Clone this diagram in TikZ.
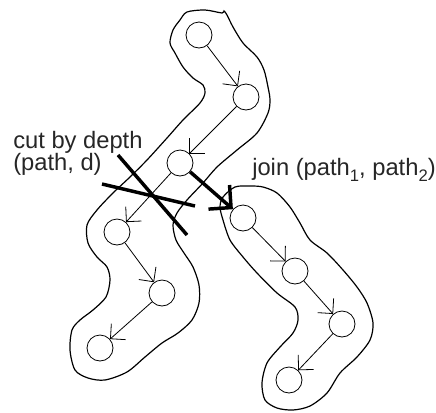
\documentclass[tikz,border=0pt]{standalone}
\usepackage{fontspec}
\setmainfont{Liberation Sans}
\usetikzlibrary{arrows.meta}
\begin{document}
\begin{tikzpicture}[x=0.75pt,y=-0.75pt,
  vert/.style={circle,draw,line width=0.6pt,minimum size=19.5pt,inner sep=0pt},
  arr/.style={line width=0.6pt,-{Straight Barb[length=8pt,width=16pt,line width=0.6pt]}},
  bigarr/.style={line width=2.6pt,-{Straight Barb[length=12pt,width=24pt,line width=2.6pt]}},
  blob/.style={line width=0.9pt},
  cutline/.style={line width=2.6pt},
  lbl/.style={inner sep=0pt,text=black!85,font=\fontsize{17.8}{20}\selectfont}]
\useasboundingbox (0,0) rectangle (436,412);
% outlines
\draw[blob] plot[smooth cycle,tension=0.5] coordinates {
(180,20) (187,12) (205,10) (222,13) (224,11) (227,15) (233,27) (243,43) (257,57)
(264,70) (268,87) (270,100) (268,113) (257,133) (237,150) (217,167) (203,183)
(187,200) (177,213) (173,225) (176,240) (184,253) (193,267) (199,285) (199,303)
(192,320) (178,333) (162,343) (145,357) (127,372) (105,380) (88,378) (75,370)
(70,350) (72,330) (80,320) (93,310) (106,297) (110,280) (107,267) (97,257)
(88,243) (87,225) (97,210) (113,193) (130,177) (147,160) (167,138) (183,120)
(200,103) (205,93) (203,85) (193,78) (183,67) (175,53) (170,43) (173,30)};
\draw[blob] plot[smooth cycle,tension=0.5] coordinates {
(235,187) (250,186) (263,187) (277,193) (290,207) (300,223) (310,240) (327,253)
(343,270) (357,287) (367,303) (373,323) (370,340) (357,357) (340,373) (327,393)
(310,406) (293,410) (277,408) (265,400) (262,383) (267,363) (280,347) (293,333)
(298,320) (295,307) (277,293) (257,273) (243,257) (230,240) (223,220) (220,207)
(223,197)};
% vertices
\node[vert] (A) at (199,35) {};
\node[vert] (B) at (246,97) {};
\node[vert] (C) at (180,163) {};
\node[vert] (D) at (117,232) {};
\node[vert] (E) at (162,293) {};
\node[vert] (F) at (100,348) {};
\node[vert] (G) at (243,218) {};
\node[vert] (H) at (295,271) {};
\node[vert] (I) at (342,324) {};
\node[vert] (J) at (289,380) {};
% edges
\draw[arr] (A) -- (B);
\draw[arr] (B) -- (C);
\draw[arr] (C) -- (D);
\draw[arr] (D) -- (E);
\draw[arr] (E) -- (F);
\draw[arr] (G) -- (H);
\draw[arr] (H) -- (I);
\draw[arr] (I) -- (J);
\draw[bigarr] (C) -- (G);
% cut
\coordinate (c1a) at (118,155);
\coordinate (c1b) at (187,235);
\coordinate (c2a) at (102,184);
\coordinate (c2b) at (195,206);
\draw[cutline] (c1a) -- (c1b);
\draw[cutline] (c2a) -- (c2b);
% labels
\node[lbl,anchor=base west] (cut1) at (13,148) {cut by depth};
\node[lbl,anchor=base west] (cut2) at (13,170) {(path, d)};
\node[lbl,anchor=base west] (join) at (252,175) {join (path\raisebox{-0.28em}{\fontsize{12.5}{12.5}\selectfont 1}, path\raisebox{-0.28em}{\fontsize{12.5}{12.5}\selectfont 2})};
\end{tikzpicture}
\end{document}
